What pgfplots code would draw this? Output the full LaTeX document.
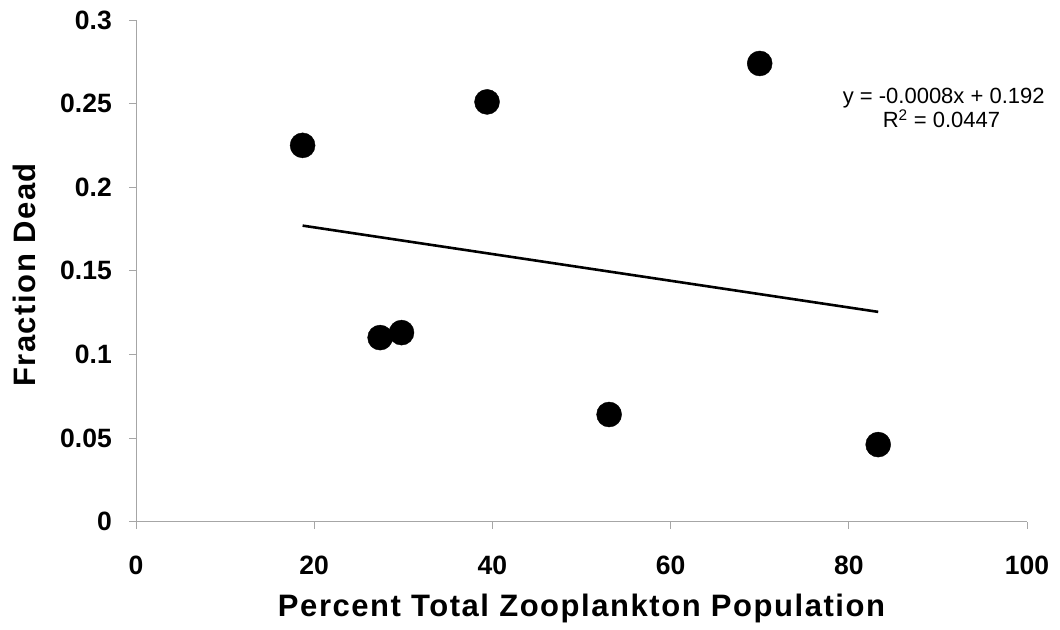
\documentclass[border=0pt]{standalone}
\usepackage{fontspec}
\setmainfont{Liberation Sans}
\newfontfamily\labelfont[LetterSpace=5]{Liberation Sans}
\usepackage{pgfplots}
\pgfplotsset{compat=1.18}

\begin{document}
\begin{tikzpicture}[x=1bp,y=1bp]
\useasboundingbox (-136bp,-108.5bp) rectangle (924bp,521.5bp);
\begin{axis}[
  at={(0,0)}, anchor=south west,
  scale only axis,
  width=891bp, height=501.5bp,
  xmin=0, xmax=100, ymin=0, ymax=0.3,
  axis lines*=left,
  axis line style={gray!70, line width=0.8bp},
  tick align=outside,
  major tick length=7bp,
  tick style={gray!70, line width=0.8bp},
  xtick={0,20,40,60,80,100},
  ytick={0,0.05,0.1,0.15,0.2,0.25,0.3},
  yticklabels={0,0.05,0.1,0.15,0.2,0.25,0.3},
  /pgf/number format/assume math mode=true,
  ticklabel style={font=\fontsize{26.5bp}{30bp}\selectfont\bfseries},
  yticklabel style={anchor=east, inner sep=0pt, xshift=-17bp},
  xticklabel style={anchor=north, inner sep=0pt, yshift=-27bp},
  xlabel={Percent Total Zooplankton Population},
  ylabel={Fraction Dead},
  label style={font=\labelfont\fontsize{31bp}{36bp}\selectfont\bfseries},
  xlabel style={at={(axis description cs:0.5,-0.1904)}, anchor=base, inner sep=0pt},
  ylabel style={at={(axis description cs:-0.1257,0.4915)}, anchor=center, inner sep=0pt},
  clip=false,
]
% observed points
\addplot[only marks, mark=*, mark size=12.5bp, mark options={fill=black, draw=black}]
  coordinates {
    (18.7,0.225) (27.4,0.110) (29.8,0.113) (39.4,0.251)
    (53.1,0.064) (70.0,0.274) (83.3,0.046)
  };
% linear trendline y = -0.0008x + 0.192
\addplot[black, line width=2.6bp] coordinates {(18.7,0.177) (83.3,0.1254)};
\node[anchor=base east, inner sep=0pt, font=\fontsize{22bp}{26bp}\selectfont]
  at (axis cs:102.0,0.25) {y = -0.0008x + 0.192};
\node[anchor=base east, inner sep=0pt, font=\fontsize{22bp}{26bp}\selectfont]
  at (axis cs:97.0,0.2356) {R\textsuperscript{2} = 0.0447};
\end{axis}
\end{tikzpicture}
\end{document}
